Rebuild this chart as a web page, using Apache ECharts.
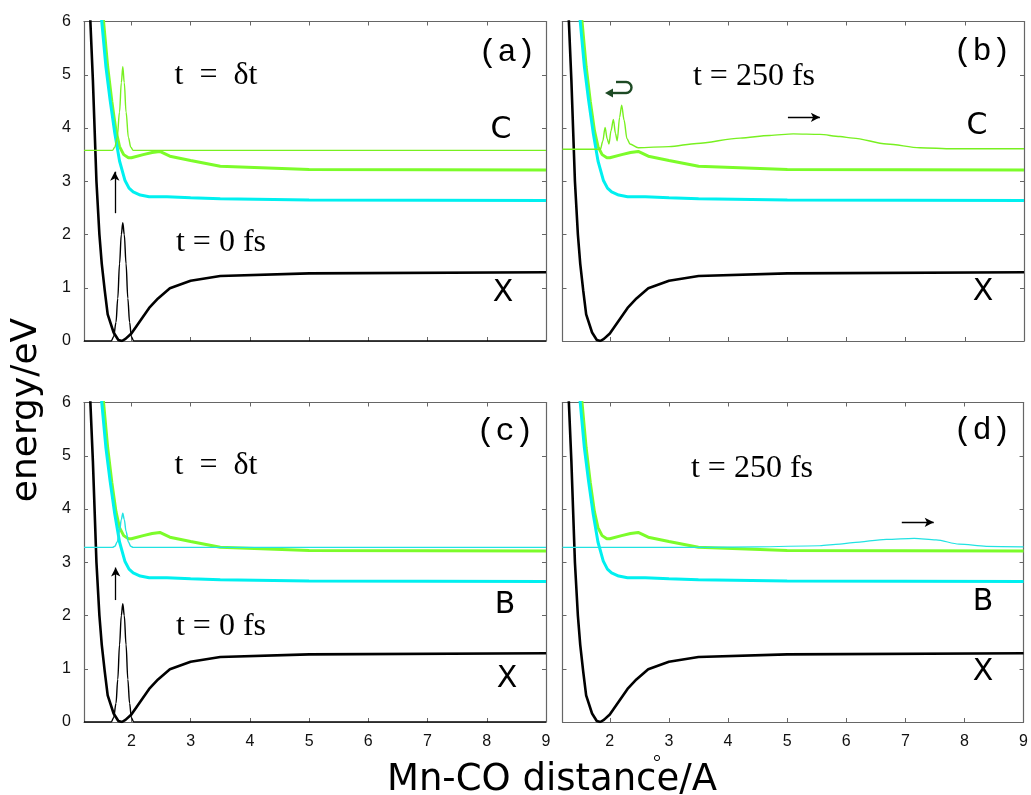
<!DOCTYPE html>
<html>
<head>
<meta charset="utf-8">
<script src="https://cdn.jsdelivr.net/npm/echarts@6/dist/echarts.min.js"></script>
<style>
  html, body { margin: 0; padding: 0; background: #ffffff; }
  #chart { width: 1031px; height: 795px; }
</style>
</head>
<body>
<div id="chart"></div>
<script>
// Mn-CO distance axis (Angstrom) and energy axis (eV)
const xTicks = [2, 3, 4, 5, 6, 7, 8, 9];
const xRange = [1.2, 9];
const yRange = [0, 6];

// Potential energy curves: [distance, energy]
const potX = [[1.25, 7.3], [1.3, 6.2], [1.35, 4.9], [1.41, 3.0], [1.46, 2.0], [1.5, 1.45], [1.55, 0.95],
  [1.6, 0.5], [1.7, 0.16], [1.78, 0.02], [1.84, 0.0], [1.9, 0.04], [2.0, 0.14], [2.15, 0.38],
  [2.3, 0.62], [2.45, 0.8], [2.65, 0.99], [3.0, 1.13], [3.5, 1.22], [5.0, 1.27], [9.0, 1.29]];
const potB = [[1.45, 6.6], [1.5, 6.0], [1.57, 5.15], [1.64, 4.53], [1.72, 3.9], [1.8, 3.38], [1.89, 3.02],
  [1.96, 2.87], [2.03, 2.8], [2.15, 2.74], [2.3, 2.71], [2.6, 2.71], [3.0, 2.69], [3.5, 2.67],
  [5.0, 2.65], [9.0, 2.64]];
const potC = [[1.48, 6.6], [1.53, 6.0], [1.6, 5.15], [1.67, 4.5], [1.74, 3.95], [1.8, 3.65], [1.87, 3.5],
  [1.95, 3.44], [2.0, 3.44], [2.2, 3.5], [2.35, 3.54], [2.48, 3.56], [2.65, 3.47], [3.0, 3.39],
  [3.5, 3.28], [5.0, 3.22], [9.0, 3.21]];

// Wave packets
const packetT0 = [[1.2, 0], [1.66, 0], [1.7, 0.08], [1.74, 0.35], [1.77, 0.8], [1.8, 1.45], [1.83, 2.0],
  [1.855, 2.22], [1.88, 2.0], [1.91, 1.45], [1.94, 0.8], [1.97, 0.35], [2.0, 0.08], [2.04, 0], [9.0, 0]];
const packetCdt = [[1.2, 3.58], [1.68, 3.58], [1.72, 3.64], [1.76, 3.82], [1.8, 4.3], [1.83, 4.85],
  [1.855, 5.15], [1.88, 4.85], [1.91, 4.3], [1.95, 3.82], [1.99, 3.64], [2.03, 3.58], [9.0, 3.58]];
const packetC250 = [[1.2, 3.6], [1.84, 3.6], [1.88, 3.75], [1.92, 4.01], [1.955, 3.8], [1.985, 3.7],
  [2.02, 3.95], [2.06, 4.16], [2.095, 3.9], [2.125, 3.76], [2.165, 4.2], [2.2, 4.43], [2.24, 4.15],
  [2.29, 3.8], [2.34, 3.7], [2.48, 3.63], [3.0, 3.65], [3.47, 3.71], [4.2, 3.81], [4.7, 3.86],
  [5.1, 3.89], [5.55, 3.88], [5.89, 3.84], [6.11, 3.81], [6.68, 3.7], [7.24, 3.63], [7.8, 3.61], [9.0, 3.61]];
const packetBdt = [[1.2, 3.28], [1.68, 3.28], [1.72, 3.3], [1.76, 3.38], [1.8, 3.58], [1.83, 3.8],
  [1.855, 3.92], [1.88, 3.8], [1.91, 3.58], [1.95, 3.38], [1.99, 3.3], [2.03, 3.28], [9.0, 3.28]];
const packetB250 = [[1.2, 3.28], [3.5, 3.28], [4.5, 3.29], [5.55, 3.31], [5.89, 3.34], [6.11, 3.37],
  [6.68, 3.43], [7.15, 3.45], [7.52, 3.42], [7.91, 3.34], [8.37, 3.3], [9.0, 3.29]];

// Arrow annotations: [from, to]
const arrowA = [[1.72, 2.4], [1.72, 3.18]];
const arrowB = [[5.01, 4.2], [5.55, 4.2]];
const arrowC = [[1.735, 2.29], [1.735, 2.9]];
const arrowD = [[6.94, 3.75], [7.48, 3.75]];

const FRAME = '#666666';
const BLACK = '#000000';
const CYAN = '#00f0f0';
const GREEN = '#7cfc2a';
const GREEN_THIN = '#78f020';
const CYAN_THIN = '#22e2e2';
const DARK_GREEN = '#1d4a24';

const grids = [
  { left: 84, top: 21.5, width: 462, height: 319.5 },
  { left: 562.5, top: 21.5, width: 461.5, height: 319.5 },
  { left: 84, top: 402.5, width: 462, height: 319.5 },
  { left: 562.5, top: 402.5, width: 461.5, height: 319.5 }
];

const xAxes = [], yAxes = [];
grids.forEach((g, i) => {
  const lineCfg = { show: true, onZero: false, lineStyle: { color: FRAME, width: 1.2 } };
  const tickCfg = { show: true, inside: true, length: 4, lineStyle: { color: FRAME, width: 1 } };
  const labelFont = { fontSize: 16, color: '#111', fontFamily: '"Liberation Sans", Arial, sans-serif' };
  ['bottom', 'top'].forEach(pos => {
    xAxes.push({
      type: 'value', gridIndex: i, position: pos, min: xRange[0], max: xRange[1],
      axisLine: lineCfg,
      axisTick: Object.assign({ customValues: xTicks }, tickCfg),
      axisLabel: Object.assign({ show: pos === 'bottom' && i >= 2, customValues: xTicks, margin: 12 }, labelFont),
      splitLine: { show: false }
    });
  });
  ['left', 'right'].forEach(pos => {
    yAxes.push({
      type: 'value', gridIndex: i, position: pos, min: yRange[0], max: yRange[1], interval: 1,
      axisLine: lineCfg,
      axisTick: tickCfg,
      axisLabel: Object.assign({ show: pos === 'left' && i % 2 === 0, margin: 13 }, labelFont),
      splitLine: { show: false }
    });
  });
});

function curve(data, panel, color, width, z) {
  return {
    type: 'line', data: data, xAxisIndex: panel * 2, yAxisIndex: panel * 2,
    showSymbol: false, symbol: 'none', smooth: false, z: z || 2,
    lineStyle: { color: color, width: width }, silent: true
  };
}

function packet(data, panel, color, arrow, smooth) {
  const s = curve(data, panel, color, 1.4, 5);
  s.smooth = smooth;
  s.smoothMonotone = 'x';
  if (arrow) {
    s.markLine = {
      silent: true, animation: false, symbol: ['none', 'arrow'], symbolSize: [7, 9],
      label: { show: false }, emphasis: { disabled: true },
      lineStyle: { color: '#000', width: 1.3, type: 'solid' },
      data: [[{ coord: arrow[0] }, { coord: arrow[1] }]]
    };
  }
  return s;
}

const series = [];
for (let p = 0; p < 4; p++) {
  series.push(curve(potX, p, BLACK, 2.6, 2));
  series.push(curve(potC, p, GREEN, 3, 3));
  series.push(curve(potB, p, CYAN, 3, 4));
}
series.push(packet(packetT0, 0, BLACK, null, 0.35));
series.push(packet(packetCdt, 0, GREEN_THIN, arrowA, 0.35));
series.push(packet(packetC250, 1, GREEN_THIN, arrowB, 0.3));
series.push(packet(packetT0, 2, BLACK, null, 0.35));
series.push(packet(packetBdt, 2, CYAN_THIN, arrowC, 0.35));
series.push(packet(packetB250, 3, CYAN_THIN, arrowD, 0.3));
series[series.length - 1].lineStyle.width = 1.2;

const MONO = '"Liberation Mono", "DejaVu Sans Mono", monospace';
const SERIF = '"Liberation Serif", "DejaVu Serif", serif';
const SANS = '"DejaVu Sans", sans-serif';

function label(text, x, y, font, size, extra) {
  return Object.assign({
    type: 'text', x: x, y: y, silent: true, z: 10,
    style: { text: text, font: size + 'px ' + font, fill: '#000', align: 'center', verticalAlign: 'middle' }
  }, extra || {});
}

const graphic = [
  label('(a)', 507, 53, MONO, 32),
  label('(b)', 982, 52, MONO, 32),
  label('(c)', 505, 432, MONO, 32),
  label('(d)', 982, 431, MONO, 32),
  label('C', 501, 130, SANS, 30),
  label('C', 977, 126, SANS, 30),
  label('X', 503, 293, SANS, 30),
  label('X', 983, 292, SANS, 30),
  label('B', 505, 605, SANS, 30),
  label('X', 507, 679, SANS, 30),
  label('B', 983, 602, SANS, 30),
  label('X', 983, 672, SANS, 30),
  label('t\u2002=\u2002\u03b4t', 216, 76, SERIF, 32),
  label('t = 0 fs', 221, 243, SERIF, 32),
  label('t = 250 fs', 754, 77, SERIF, 32),
  label('t\u2002=\u2002\u03b4t', 216, 466, SERIF, 32),
  label('t = 0 fs', 221, 627, SERIF, 32),
  label('t = 250 fs', 752, 469, SERIF, 32),
  label('Mn-CO distance/A', 552, 780, SANS, 37),
  label('energy/eV', 27, 410, SANS, 36, { rotation: Math.PI / 2 }),
  {
    type: 'circle', silent: true, z: 10,
    shape: { cx: 657, cy: 758, r: 2.6 },
    style: { fill: 'none', stroke: '#000', lineWidth: 1 }
  },
  // curved return arrow near the C-state packet
  {
    type: 'polyline', silent: true, z: 10,
    shape: { points: [[612, 93], [626, 93]] },
    style: { fill: 'none', stroke: DARK_GREEN, lineWidth: 2.4 }
  },
  {
    type: 'arc', silent: true, z: 10,
    shape: { cx: 626, cy: 87.5, r: 5.5, startAngle: -Math.PI / 2, endAngle: Math.PI / 2, clockwise: true },
    style: { fill: 'none', stroke: DARK_GREEN, lineWidth: 2.4 }
  },
  {
    type: 'polyline', silent: true, z: 10,
    shape: { points: [[626, 82], [616, 82]] },
    style: { fill: 'none', stroke: DARK_GREEN, lineWidth: 2.4 }
  },
  {
    type: 'polygon', silent: true, z: 10,
    shape: { points: [[605, 93], [613, 88.5], [613, 97.5]] },
    style: { fill: DARK_GREEN }
  }
];

const chart = echarts.init(document.getElementById('chart'), null, { renderer: 'canvas' });
chart.setOption({
  backgroundColor: '#ffffff',
  animation: false,
  grid: grids,
  xAxis: xAxes,
  yAxis: yAxes,
  series: series,
  graphic: graphic
});
</script>
</body>
</html>
